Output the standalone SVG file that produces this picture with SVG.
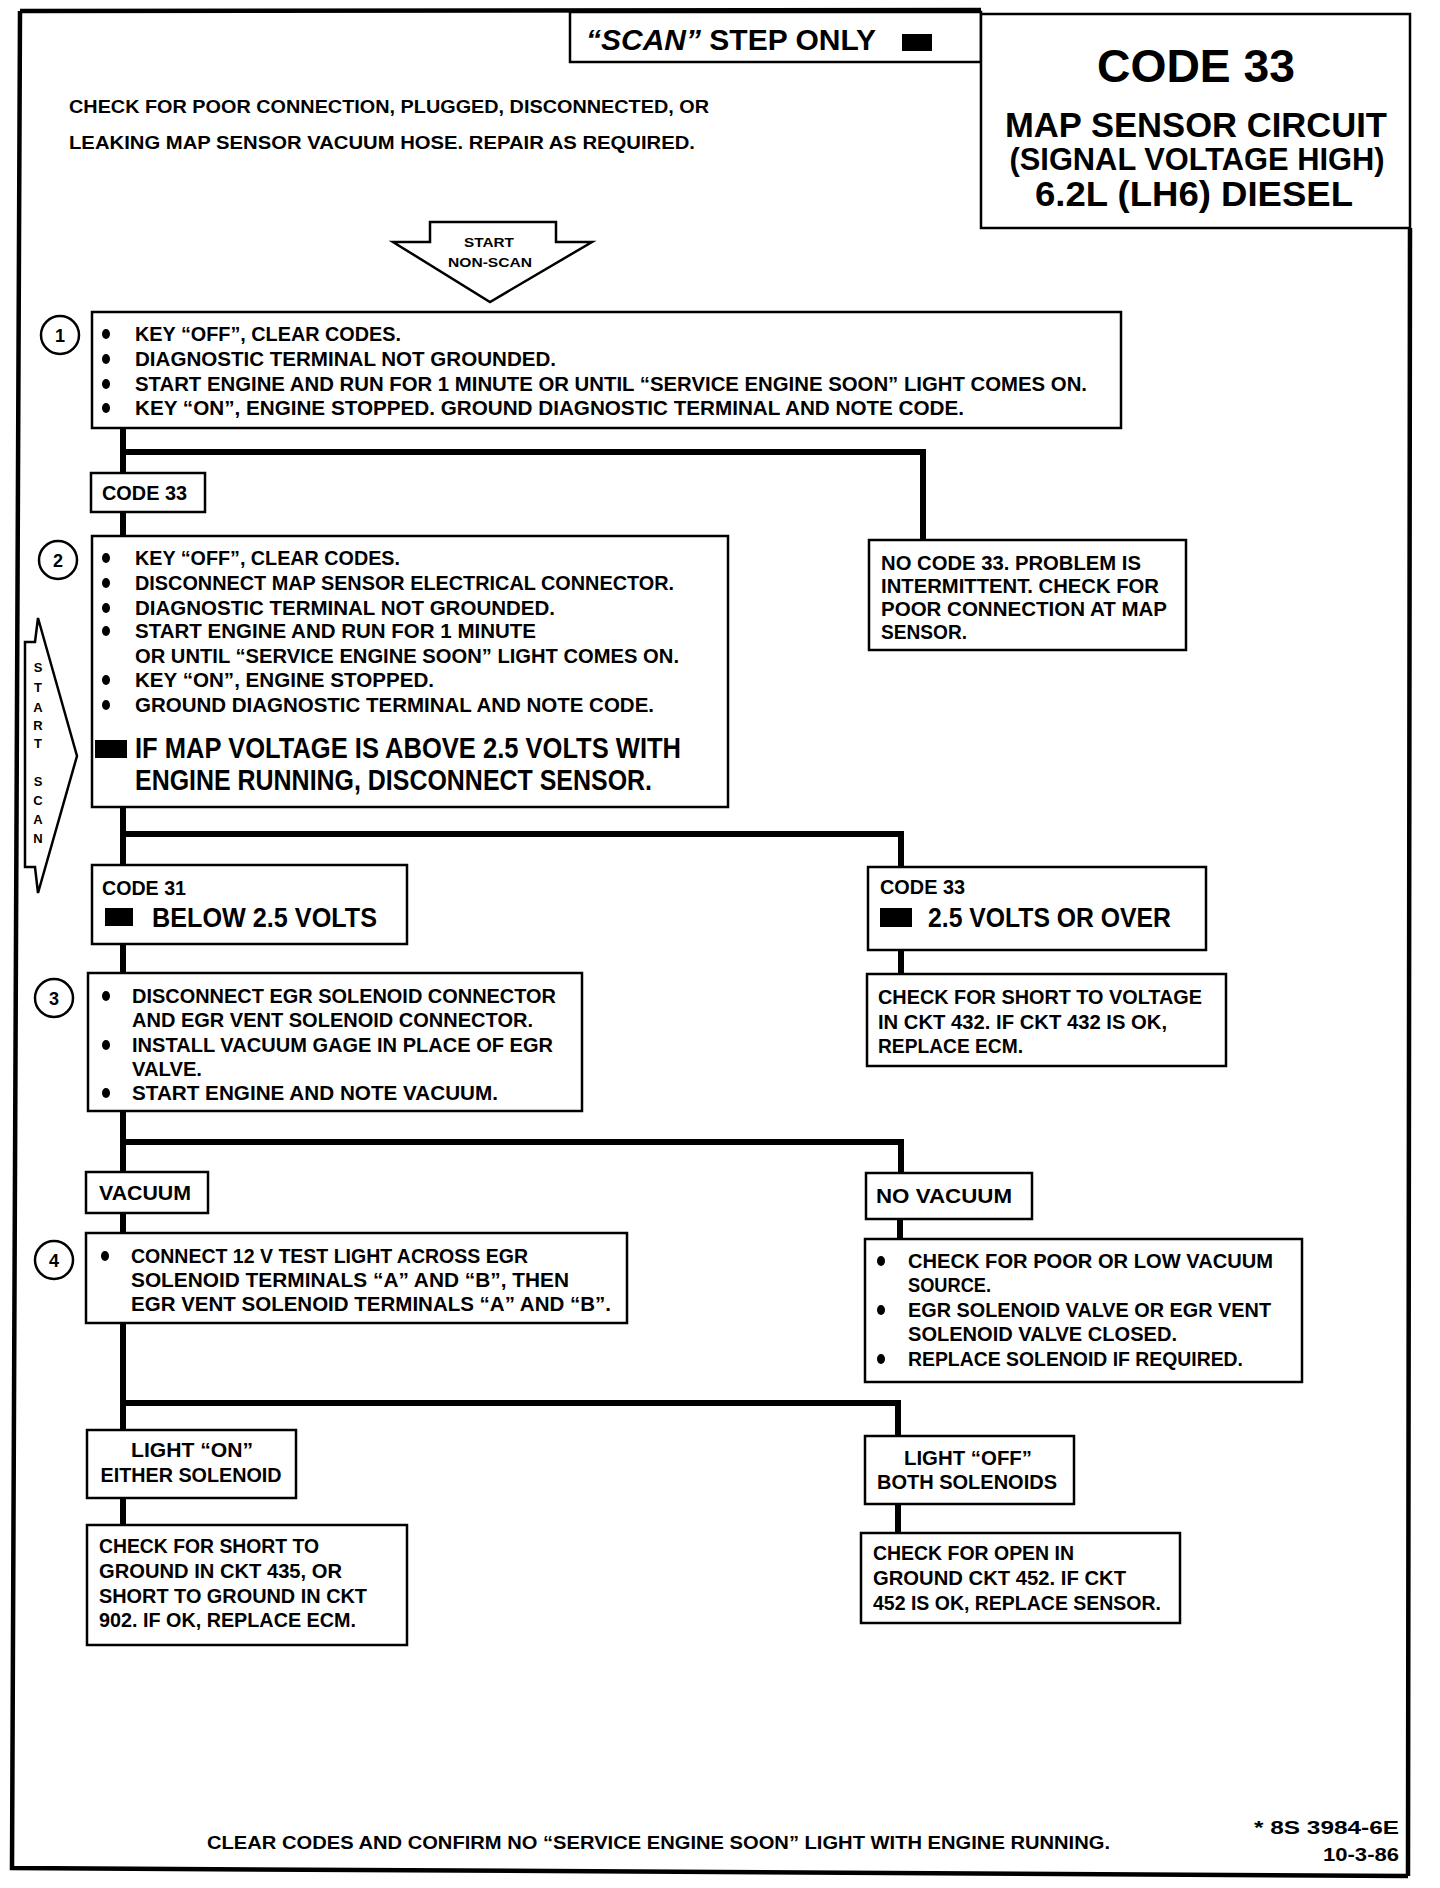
<svg xmlns="http://www.w3.org/2000/svg" width="1440" height="1888" viewBox="0 0 1440 1888">
<style>
.t{font-family:"Liberation Sans Narrow","Liberation Sans",Arial,sans-serif;font-weight:bold;fill:#000;font-size:20px}
.s{font-size:18.5px}
.big{font-size:29px}
.mid{font-size:27px}
.sm{font-size:13px}
.c{text-anchor:middle}
.box{fill:#fff;stroke:#000;stroke-width:2.5}
.conn{fill:none;stroke:#000;stroke-width:6;stroke-linecap:square}
.frame{fill:none;stroke:#000;stroke-width:4.5}
.num{fill:#fff;stroke:#000;stroke-width:2.5}
</style>
<defs>
<ellipse id="b" cx="0" cy="0" rx="4" ry="5" fill="#000"/>
</defs>
<rect width="1440" height="1888" fill="#fff"/>
<g id="frame">
<path class="frame" d="M20 11 L981 10 M20 11 L12 1868 L1408 1876 M1410 228 L1408 1876"/>
</g>
<g id="connectors">
<path class="conn" d="M123 428 V474 M123 452 H923 V540"/>
<path class="conn" d="M123 512 V536"/>
<path class="conn" d="M123 807 V865 M123 834 H901 V866"/>
<path class="conn" d="M901 950 V974"/>
<path class="conn" d="M123 944 V974"/>
<path class="conn" d="M123 1111 V1172 M123 1142 H901 V1172"/>
<path class="conn" d="M123 1213 V1233"/>
<path class="conn" d="M900 1219 V1239"/>
<path class="conn" d="M123 1323 V1430 M123 1403 H898 V1436"/>
<path class="conn" d="M123 1498 V1525"/>
<path class="conn" d="M898 1504 V1533"/>
</g>
<g id="scan-only">
<rect class="box" x="570" y="12" width="411" height="50"/>
<text class="t" style="font-size:29px" x="586" y="50" textLength="290" lengthAdjust="spacingAndGlyphs"><tspan font-style="italic">“SCAN”</tspan> STEP ONLY</text>
<rect x="902" y="34" width="30" height="17" fill="#000"/>
</g>
<g id="title">
<rect class="box" x="981" y="14" width="429" height="214"/>
<text class="t c" style="font-size:47px" x="1196" y="82" textLength="198" lengthAdjust="spacingAndGlyphs">CODE 33</text>
<text class="t c" style="font-size:35px" x="1196" y="137" textLength="382" lengthAdjust="spacingAndGlyphs">MAP SENSOR CIRCUIT</text>
<text class="t c" style="font-size:31px" x="1197" y="170" textLength="375" lengthAdjust="spacingAndGlyphs">(SIGNAL VOLTAGE HIGH)</text>
<text class="t c" style="font-size:35px" x="1194" y="206" textLength="318" lengthAdjust="spacingAndGlyphs">6.2L  (LH6)  DIESEL</text>
</g>
<g id="intro">
<text class="t s" x="69" y="113" textLength="640" lengthAdjust="spacingAndGlyphs">CHECK FOR POOR CONNECTION, PLUGGED, DISCONNECTED, OR</text>
<text class="t s" x="69" y="149" textLength="626" lengthAdjust="spacingAndGlyphs">LEAKING MAP SENSOR VACUUM HOSE.  REPAIR AS REQUIRED.</text>
</g>
<g id="start-nonscan">
<path class="box" d="M430 222 H556 V242 H592 L490 302 L393 242 H430 Z"/>
<text class="t sm c" x="489" y="247" textLength="50" lengthAdjust="spacingAndGlyphs">START</text>
<text class="t sm c" x="490" y="267" textLength="84" lengthAdjust="spacingAndGlyphs">NON-SCAN</text>
</g>
<g id="step1">
<circle class="num" cx="60" cy="335" r="19"/>
<text class="t c" x="60" y="342" style="font-size:18px">1</text>
<rect class="box" x="92" y="312" width="1029" height="116"/>
<use href="#b" x="106" y="334"/><use href="#b" x="106" y="359"/><use href="#b" x="106" y="384"/><use href="#b" x="106" y="408"/>
<text class="t" x="135" y="341" textLength="266" lengthAdjust="spacingAndGlyphs">KEY “OFF”, CLEAR CODES.</text>
<text class="t" x="135" y="366" textLength="421" lengthAdjust="spacingAndGlyphs">DIAGNOSTIC TERMINAL NOT GROUNDED.</text>
<text class="t" x="135" y="391" textLength="952" lengthAdjust="spacingAndGlyphs">START ENGINE AND RUN FOR 1 MINUTE OR UNTIL “SERVICE ENGINE SOON” LIGHT COMES ON.</text>
<text class="t" x="135" y="415" textLength="829" lengthAdjust="spacingAndGlyphs">KEY “ON”, ENGINE STOPPED.  GROUND DIAGNOSTIC TERMINAL AND NOTE CODE.</text>
</g>
<g id="code33-a">
<rect class="box" x="91" y="473" width="114" height="39"/>
<text class="t" x="102" y="500" textLength="85" lengthAdjust="spacingAndGlyphs">CODE 33</text>
</g>
<g id="step2">
<circle class="num" cx="58" cy="560" r="19"/>
<text class="t c" x="58" y="567" style="font-size:18px">2</text>
<rect class="box" x="92" y="536" width="636" height="271"/>
<use href="#b" x="106" y="558"/><use href="#b" x="106" y="583"/><use href="#b" x="106" y="608"/><use href="#b" x="106" y="631"/><use href="#b" x="106" y="680"/><use href="#b" x="106" y="705"/>
<text class="t" x="135" y="565" textLength="265" lengthAdjust="spacingAndGlyphs">KEY “OFF”, CLEAR CODES.</text>
<text class="t" x="135" y="590" textLength="539" lengthAdjust="spacingAndGlyphs">DISCONNECT MAP SENSOR ELECTRICAL CONNECTOR.</text>
<text class="t" x="135" y="615" textLength="420" lengthAdjust="spacingAndGlyphs">DIAGNOSTIC TERMINAL NOT GROUNDED.</text>
<text class="t" x="135" y="638" textLength="401" lengthAdjust="spacingAndGlyphs">START  ENGINE AND RUN FOR 1 MINUTE</text>
<text class="t" x="135" y="663" textLength="544" lengthAdjust="spacingAndGlyphs">OR UNTIL “SERVICE ENGINE SOON” LIGHT COMES ON.</text>
<text class="t" x="135" y="687" textLength="299" lengthAdjust="spacingAndGlyphs">KEY “ON”,  ENGINE STOPPED.</text>
<text class="t" x="135" y="712" textLength="519" lengthAdjust="spacingAndGlyphs">GROUND DIAGNOSTIC TERMINAL AND NOTE CODE.</text>
<rect x="95" y="740" width="32" height="18" fill="#000"/>
<text class="t big" x="135" y="758" textLength="546" lengthAdjust="spacingAndGlyphs">IF MAP VOLTAGE IS ABOVE 2.5 VOLTS WITH</text>
<text class="t big" x="135" y="790" textLength="517" lengthAdjust="spacingAndGlyphs">ENGINE RUNNING, DISCONNECT SENSOR.</text>
</g>
<g id="no-code33">
<rect class="box" x="869" y="540" width="317" height="110"/>
<text class="t" x="881" y="570" textLength="260" lengthAdjust="spacingAndGlyphs">NO CODE 33.  PROBLEM IS</text>
<text class="t" x="881" y="593" textLength="278" lengthAdjust="spacingAndGlyphs">INTERMITTENT.  CHECK FOR</text>
<text class="t" x="881" y="616" textLength="286" lengthAdjust="spacingAndGlyphs">POOR CONNECTION AT MAP</text>
<text class="t" x="881" y="639" textLength="86" lengthAdjust="spacingAndGlyphs">SENSOR.</text>
</g>
<g id="start-scan">
<path class="box" d="M38 618 L35 642 H25 V867 H35 L38 893 L77 756 Z"/>
<text class="t sm c" x="38" y="672">S</text>
<text class="t sm c" x="38" y="692">T</text>
<text class="t sm c" x="38" y="712">A</text>
<text class="t sm c" x="38" y="730">R</text>
<text class="t sm c" x="38" y="748">T</text>
<text class="t sm c" x="38" y="786">S</text>
<text class="t sm c" x="38" y="805">C</text>
<text class="t sm c" x="38" y="824">A</text>
<text class="t sm c" x="38" y="843">N</text>
</g>
<g id="code31">
<rect class="box" x="92" y="865" width="315" height="79"/>
<text class="t" x="102" y="895" textLength="84" lengthAdjust="spacingAndGlyphs">CODE 31</text>
<rect x="105" y="908" width="28" height="18" fill="#000"/>
<text class="t mid" x="152" y="927" textLength="225" lengthAdjust="spacingAndGlyphs">BELOW 2.5 VOLTS</text>
</g>
<g id="code33-b">
<rect class="box" x="868" y="867" width="338" height="83"/>
<text class="t" x="880" y="894" textLength="85" lengthAdjust="spacingAndGlyphs">CODE 33</text>
<rect x="880" y="908" width="32" height="19" fill="#000"/>
<text class="t mid" x="928" y="927" textLength="243" lengthAdjust="spacingAndGlyphs">2.5 VOLTS OR OVER</text>
</g>
<g id="check-voltage">
<rect class="box" x="867" y="974" width="359" height="92"/>
<text class="t" x="878" y="1004" textLength="324" lengthAdjust="spacingAndGlyphs">CHECK FOR SHORT TO VOLTAGE</text>
<text class="t" x="878" y="1029" textLength="289" lengthAdjust="spacingAndGlyphs">IN CKT 432.  IF CKT 432 IS OK,</text>
<text class="t" x="878" y="1053" textLength="145" lengthAdjust="spacingAndGlyphs">REPLACE ECM.</text>
</g>
<g id="step3">
<circle class="num" cx="54" cy="998" r="19"/>
<text class="t c" x="54" y="1005" style="font-size:18px">3</text>
<rect class="box" x="88" y="973" width="494" height="138"/>
<use href="#b" x="106" y="996"/><use href="#b" x="106" y="1045"/><use href="#b" x="106" y="1093"/>
<text class="t" x="132" y="1003" textLength="424" lengthAdjust="spacingAndGlyphs">DISCONNECT EGR SOLENOID CONNECTOR</text>
<text class="t" x="132" y="1027" textLength="401" lengthAdjust="spacingAndGlyphs">AND EGR VENT SOLENOID CONNECTOR.</text>
<text class="t" x="132" y="1052" textLength="421" lengthAdjust="spacingAndGlyphs">INSTALL VACUUM GAGE IN PLACE OF EGR</text>
<text class="t" x="132" y="1076" textLength="70" lengthAdjust="spacingAndGlyphs">VALVE.</text>
<text class="t" x="132" y="1100" textLength="366" lengthAdjust="spacingAndGlyphs">START ENGINE AND NOTE VACUUM.</text>
</g>
<g id="vacuum">
<rect class="box" x="86" y="1172" width="122" height="41"/>
<text class="t" x="99" y="1200" textLength="92" lengthAdjust="spacingAndGlyphs">VACUUM</text>
</g>
<g id="no-vacuum">
<rect class="box" x="866" y="1173" width="166" height="46"/>
<text class="t" x="876" y="1203" textLength="136" lengthAdjust="spacingAndGlyphs">NO  VACUUM</text>
</g>
<g id="step4">
<circle class="num" cx="54" cy="1260" r="19"/>
<text class="t c" x="54" y="1267" style="font-size:18px">4</text>
<rect class="box" x="86" y="1233" width="541" height="90"/>
<use href="#b" x="105" y="1256"/>
<text class="t" x="131" y="1263" textLength="397" lengthAdjust="spacingAndGlyphs">CONNECT 12 V TEST LIGHT ACROSS EGR</text>
<text class="t" x="131" y="1287" textLength="438" lengthAdjust="spacingAndGlyphs">SOLENOID TERMINALS  “A” AND “B”, THEN</text>
<text class="t" x="131" y="1311" textLength="480" lengthAdjust="spacingAndGlyphs">EGR VENT SOLENOID TERMINALS “A” AND “B”.</text>
</g>
<g id="no-vacuum-checks">
<rect class="box" x="865" y="1239" width="437" height="143"/>
<use href="#b" x="881" y="1261"/><use href="#b" x="881" y="1310"/><use href="#b" x="881" y="1359"/>
<text class="t" x="908" y="1268" textLength="365" lengthAdjust="spacingAndGlyphs">CHECK FOR POOR OR LOW VACUUM</text>
<text class="t" x="908" y="1292" textLength="83" lengthAdjust="spacingAndGlyphs">SOURCE.</text>
<text class="t" x="908" y="1317" textLength="363" lengthAdjust="spacingAndGlyphs">EGR SOLENOID VALVE OR EGR VENT</text>
<text class="t" x="908" y="1341" textLength="269" lengthAdjust="spacingAndGlyphs">SOLENOID VALVE CLOSED.</text>
<text class="t" x="908" y="1366" textLength="335" lengthAdjust="spacingAndGlyphs">REPLACE SOLENOID IF REQUIRED.</text>
</g>
<g id="light-on">
<rect class="box" x="87" y="1430" width="209" height="68"/>
<text class="t c" x="192" y="1457" textLength="122" lengthAdjust="spacingAndGlyphs">LIGHT “ON”</text>
<text class="t c" x="191" y="1482" textLength="181" lengthAdjust="spacingAndGlyphs">EITHER SOLENOID</text>
</g>
<g id="light-off">
<rect class="box" x="865" y="1436" width="209" height="68"/>
<text class="t c" x="968" y="1465" textLength="128" lengthAdjust="spacingAndGlyphs">LIGHT “OFF”</text>
<text class="t c" x="967" y="1489" textLength="180" lengthAdjust="spacingAndGlyphs">BOTH SOLENOIDS</text>
</g>
<g id="check-ground">
<rect class="box" x="87" y="1525" width="320" height="120"/>
<text class="t" x="99" y="1553" textLength="220" lengthAdjust="spacingAndGlyphs">CHECK FOR SHORT TO</text>
<text class="t" x="99" y="1578" textLength="243" lengthAdjust="spacingAndGlyphs">GROUND IN CKT 435, OR</text>
<text class="t" x="99" y="1603" textLength="268" lengthAdjust="spacingAndGlyphs">SHORT TO GROUND IN CKT</text>
<text class="t" x="99" y="1627" textLength="257" lengthAdjust="spacingAndGlyphs">902.  IF OK, REPLACE ECM.</text>
</g>
<g id="check-open">
<rect class="box" x="861" y="1533" width="319" height="90"/>
<text class="t" x="873" y="1560" textLength="201" lengthAdjust="spacingAndGlyphs">CHECK FOR OPEN IN</text>
<text class="t" x="873" y="1585" textLength="253" lengthAdjust="spacingAndGlyphs">GROUND CKT 452.  IF CKT</text>
<text class="t" x="873" y="1610" textLength="288" lengthAdjust="spacingAndGlyphs">452 IS OK, REPLACE SENSOR.</text>
</g>
<g id="footer">
<text class="t s" x="207" y="1849" textLength="903" lengthAdjust="spacingAndGlyphs">CLEAR CODES AND CONFIRM NO “SERVICE ENGINE SOON” LIGHT WITH ENGINE RUNNING.</text>
</g>
<g id="docnum">
<text class="t" style="font-size:18px" x="1254" y="1834" textLength="145" lengthAdjust="spacingAndGlyphs">* 8S 3984-6E</text>
<text class="t" style="font-size:18px" x="1323" y="1861" textLength="76" lengthAdjust="spacingAndGlyphs">10-3-86</text>
</g>
</svg>
